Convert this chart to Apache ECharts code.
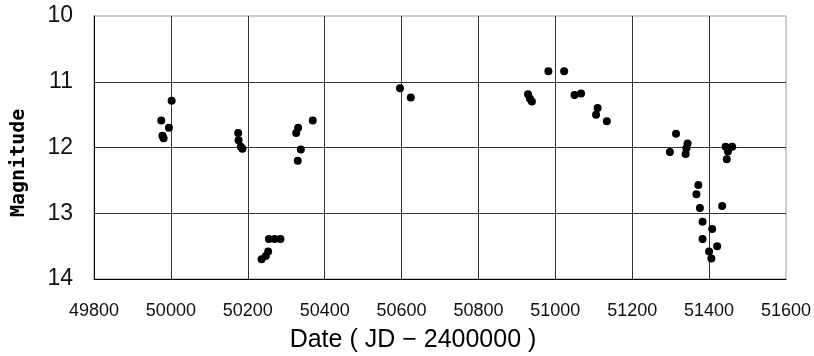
<!DOCTYPE html>
<html>
<head>
<meta charset="utf-8">
<script src="https://cdn.jsdelivr.net/npm/echarts@6/dist/echarts.min.js"></script>
<style>html,body{margin:0;padding:0;background:#fff}#c{width:814px;height:356px}</style>
</head>
<body>
<div id="c"></div>
<script>
// Observation dates (JD - 2400000)
const dates = [49975, 49995, 49978, 49981, 50002, 50175, 50176, 50182, 50186, 50236, 50247, 50253, 50255, 50270, 50285, 50326, 50331, 50338, 50330, 50369, 50596, 50624, 50929, 50934, 50939, 50982, 51023, 51050, 51067, 51106, 51110, 51134, 51298, 51314, 51339, 51341, 51344, 51367, 51372, 51376, 51383, 51383, 51400, 51406, 51408, 51421, 51434, 51443, 51446, 51449, 51460];
// Magnitudes
const mags = [11.59, 11.70, 11.82, 11.86, 11.29, 11.78, 11.89, 11.99, 12.02, 13.70, 13.65, 13.58, 13.39, 13.39, 13.39, 11.78, 11.70, 12.03, 12.20, 11.59, 11.10, 11.24, 11.19, 11.26, 11.30, 10.84, 10.84, 11.20, 11.18, 11.50, 11.40, 11.60, 12.07, 11.79, 12.10, 12.01, 11.94, 12.71, 12.57, 12.92, 13.13, 13.39, 13.58, 13.69, 13.24, 13.50, 12.89, 11.99, 12.18, 12.06, 11.99];
const xTicks = [49800, 50000, 50200, 50400, 50600, 50800, 51000, 51200, 51400, 51600];
const yTicks = [10, 11, 12, 13, 14];
const xTitle = 'Date ( JD − 2400000 )';
const yTitle = 'Magnitude';

const points = dates.map((d, i) => [d, mags[i]]);
const chart = echarts.init(document.getElementById('c'), null, {renderer: 'canvas'});
chart.setOption({
  animation: false,
  backgroundColor: '#fff',
  grid: {left: 94, right: 24, top: 16, bottom: 77, show: true, borderColor: '#999', borderWidth: 1},
  xAxis: {
    type: 'value', min: xTicks[0], max: xTicks[xTicks.length - 1], interval: 200,
    axisLine: {show: true, onZero: false, lineStyle: {color: '#000', width: 1}},
    axisTick: {show: false},
    axisLabel: {margin: 23, color: '#111', fontFamily: 'Liberation Sans', fontSize: 18,
      formatter: v => String(v)},
    splitLine: {show: true, showMaxLine: false, lineStyle: {color: '#333', width: 1}}
  },
  yAxis: {
    type: 'value', inverse: true, min: yTicks[0], max: yTicks[yTicks.length - 1], interval: 1,
    axisLine: {show: true, onZero: false, lineStyle: {color: '#000', width: 1}},
    axisTick: {show: false},
    axisLabel: {margin: 21, color: '#111', fontFamily: 'Liberation Sans', fontSize: 23,
      formatter: v => String(v)},
    splitLine: {show: true, showMinLine: false, lineStyle: {color: '#333', width: 1}}
  },
  graphic: [
    {type: 'text', x: 413, y: 328, style: {text: xTitle, fill: '#000', font: '25px "Liberation Sans"', textAlign: 'center', textVerticalAlign: 'top'}},
    {type: 'text', x: 9, y: 217, rotation: Math.PI / 2, style: {text: yTitle, fill: '#000', font: 'bold 20px "DejaVu Sans Mono"', textVerticalAlign: 'top'}}
  ],
  series: [{
    type: 'scatter', data: points, symbol: 'circle', symbolSize: 8,
    itemStyle: {color: '#000', opacity: 1}
  }]
});
</script>
</body>
</html>
